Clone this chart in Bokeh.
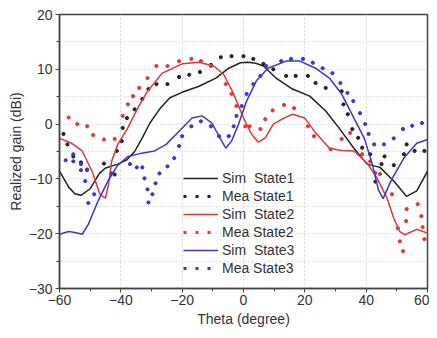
from bokeh.plotting import figure
from bokeh.models import Legend, LegendItem, FixedTicker, Range1d
from bokeh.embed import file_html
from bokeh.resources import INLINE

# ---- data ----
x_ticks = [-60, -40, -20, 0, 20, 40, 60]
y_ticks = [-30, -20, -10, 0, 10, 20]

sim1_x = [-60, -57, -55, -53, -50, -47, -45, -41, -38, -35.5, -33, -30.5, -27, -24, -20, -14.5, -9, -4.8, -1, 1.5, 4, 6.5, 10.6, 16, 21.6, 26.8, 31, 36, 40.3, 44.5, 49, 53.2, 56.5, 60]
sim1_y = [-8.6, -11.5, -12.7, -13, -11.8, -9, -8, -7.3, -6.5, -5, -2.5, 0.2, 3, 4.8, 5.8, 6.9, 8.4, 10.2, 11.2, 11.3, 11.1, 10.6, 8.4, 6.4, 5.1, 2.4, -0.6, -4.4, -7.3, -7.9, -10.4, -13.2, -12.2, -8.6]

mea1_x = [-58.7, -57.4, -55.5, -53, -51, -45.5, -42, -41.3, -39.7, -39.4, -38, -35.5, -33, -31, -28.4, -24.8, -21, -17.7, -14.2, -10.6, -7.4, -3.9, 0, 3.2, 6.5, 9.7, 13.9, 17, 21, 23.5, 26.8, 32, 32.6, 34, 35.5, 37.4, 38.7, 41.3, 43, 45, 46, 49, 52.3, 53.2, 55.8, 59]
mea1_y = [-1.8, -3.7, -5.9, -7, -8.3, -7.2, -9.2, -4.9, -3.1, -0.7, 1.1, 2.7, 4.6, 6.4, 7.3, 7.3, 8.6, 9, 9.5, 10.8, 12.2, 12.4, 12.4, 11.9, 11, 10, 8.8, 8.8, 8.8, 7.5, 6.6, 6, 3.6, 1.8, -0.9, -2.5, -4.3, -5.5, -10.5, -7.3, -5.9, -7.5, -5.5, -3.7, -4.9, -4.9]

sim2_x = [-60, -56, -52.6, -49.4, -46.8, -45, -44, -43, -41, -37.7, -34.5, -31.3, -26.5, -20, -14.5, -9.7, -6.5, -3.2, 0, 2.6, 4.8, 7.1, 9.7, 12.9, 16, 20, 23.5, 28, 32, 36, 40.3, 43.5, 46.8, 49, 51, 52.6, 56.5, 60]
sim2_y = [-2.6, -3.5, -4.9, -8.6, -12.8, -13.5, -11, -6.8, -3.7, -0.7, 2.9, 6, 9.3, 11, 11.3, 10.6, 9.1, 5.5, 1.1, -1.8, -3.3, -2.5, 0, 1, 1.8, 1.1, -1.6, -4.4, -4.8, -4.9, -7.1, -9.8, -13.5, -17.2, -19.6, -20.2, -19.2, -19.9]

mea2_x = [-57, -54.2, -51, -49, -45.5, -42, -39.4, -37.7, -36, -34, -31.3, -28.4, -24.8, -21, -17, -13.9, -10.6, -5.8, -3.9, -2.3, 0.6, 2, 5.5, 7.1, 9.5, 13.2, 16.5, 21, 23, 28.4, 32, 34.8, 38.7, 41.3, 43, 44.5, 48.4, 50.3, 51, 52, 53, 53.2, 56.8, 58, 58.4, 59]
mea2_y = [1.2, 0, -0.4, -2, -2.8, -2.7, 1.5, 3.6, 5.1, 6.6, 8.4, 10.6, 10.6, 11.5, 11.9, 11.5, 10.6, 7.3, 5.5, 3.3, -0.4, -0.4, -0.9, 0.9, 2.5, 3.5, 2.9, -0.4, -2.2, -4.6, -2.7, -1.6, -5.5, -6.8, -8.9, -9.1, -12.8, -19, -21.4, -23.2, -17.7, -15.5, -14.6, -16.8, -18.8, -21]

sim3_x = [-60, -57, -55, -52.6, -50.6, -47.4, -44.2, -41.3, -37.7, -33.2, -29, -25.2, -21, -16.8, -13.5, -10.3, -8, -5.8, -3.9, -1.6, 1, 4.2, 8, 13.9, 18.4, 23.5, 28, 32, 34.8, 39.4, 42, 44, 45.5, 48.4, 52.3, 56.5, 60]
sim3_y = [-20.1, -19.6, -19.8, -20.1, -18.3, -14, -10.4, -7.7, -5.9, -5.3, -4.9, -3.7, -1.3, 1.1, 1.5, 0.2, -2.2, -4.4, -3.1, 0, 4.2, 7.9, 10.2, 11.5, 11.5, 10.2, 8.4, 5.5, 2.4, -2.6, -7.3, -12, -13.6, -10, -6.2, -3.5, -2.8]

mea3_x = [-58, -55.5, -55.5, -53, -53, -51, -51.6, -50.6, -48.7, -43, -37, -34.8, -33, -32.3, -31.3, -31, -29.7, -28.7, -27.4, -24.8, -22.6, -21, -20, -17, -13.9, -10.6, -8, -4.8, -3.2, -2.3, -0.6, 1, 3.2, 5.5, 7.4, 12.3, 15.5, 19.4, 22.6, 25.8, 29, 31.6, 33.9, 35.8, 38, 39.7, 40.8, 42.6, 45.8, 49, 52, 55, 58.2]
mea3_y = [-6.6, -5.5, -6.8, -7.3, -8.4, -8.4, -10.4, -14.4, -12.8, -9, -7.3, -7.9, -7.9, -9.9, -11.9, -14.3, -12.8, -10.8, -9, -7.7, -6.2, -4, -2.2, -0.4, 0.5, -0.4, -2.2, -2.2, -0.4, 1.5, 3.3, 5.5, 7.3, 8.8, 10.6, 11.5, 11.9, 11.9, 11.2, 10.2, 9.3, 7.5, 5.7, 4.2, 2, 0, -1.8, -3.7, -3.7, -2.6, -0.9, -0.3, 0.2]

labels = ["Sim  State1", "Mea State1", "Sim  State2", "Mea State2", "Sim  State3", "Mea State3"]

BLACK = "#222222"
RED = "#e53535"
BLUE = "#3838d0"
FONT = "Liberation Sans"

p = figure(width=429, height=330, output_backend="svg", toolbar_location=None,
           x_range=Range1d(-60, 60), y_range=Range1d(-30, 20),
           min_border_left=59, min_border_right=2, min_border_top=14, min_border_bottom=42)
# off-screen range used only so that legend swatches for the measured series get drawn
p.extra_y_ranges = {"swatch": Range1d(1000, 1001)}

p.outline_line_color = "#444444"
p.outline_line_width = 1.5

for ax in (p.xaxis[0], p.yaxis[0]):
    ax.axis_line_color = "#444444"
    ax.axis_line_width = 1.5
    ax.major_tick_line_color = "#444444"
    ax.minor_tick_line_color = "#444444"
    ax.major_tick_in = 0
    ax.major_tick_out = 4
    ax.minor_tick_in = 0
    ax.minor_tick_out = 3
    ax.major_label_text_font = FONT
    ax.major_label_text_font_size = "14px"
    ax.major_label_text_color = "#333333"
    ax.axis_label_text_font = FONT
    ax.axis_label_text_font_size = "14px"
    ax.axis_label_text_font_style = "normal"
    ax.axis_label_text_color = "#333333"

p.xaxis.ticker = FixedTicker(ticks=x_ticks, minor_ticks=[v + 10 for v in x_ticks[:-1]])
p.yaxis.ticker = FixedTicker(ticks=y_ticks, minor_ticks=[v + 5 for v in y_ticks[:-1]])
p.xaxis.major_label_overrides = {v: str(v).replace("-", "\u2212") for v in x_ticks}
p.yaxis.major_label_overrides = {v: str(v).replace("-", "\u2212") for v in y_ticks}
p.xaxis.axis_label = "Theta (degree)"
p.yaxis.axis_label = "Realized gain (dBi)"
p.xaxis.major_label_standoff = 2
p.yaxis.major_label_standoff = 3
p.xaxis.axis_label_standoff = 3
p.yaxis.axis_label_standoff = 2

p.xgrid.grid_line_color = "#d5d5d5"
p.xgrid.grid_line_dash = "2 2"
p.ygrid.grid_line_color = "#e0e0e0"
p.ygrid.grid_line_dash = "2 2"
p.ygrid.minor_grid_line_color = "#e0e0e0"
p.ygrid.minor_grid_line_dash = "2 2"

r_s1 = p.line(sim1_x, sim1_y, line_color=BLACK, line_width=1.5)
p.scatter(mea1_x, mea1_y, size=3.2, color=BLACK)
r_s2 = p.line(sim2_x, sim2_y, line_color=RED, line_width=1.5)
p.scatter(mea2_x, mea2_y, size=3.2, color=RED)
r_s3 = p.line(sim3_x, sim3_y, line_color=BLUE, line_width=1.5)
p.scatter(mea3_x, mea3_y, size=3.2, color=BLUE)

# legend swatches for measured series (dotted line), drawn outside the frame
d1 = p.line(mea1_x, mea1_y, y_range_name="swatch", line_color=BLACK, line_width=3, line_dash="3 9")
d2 = p.line(mea2_x, mea2_y, y_range_name="swatch", line_color=RED, line_width=3, line_dash="3 9")
d3 = p.line(mea3_x, mea3_y, y_range_name="swatch", line_color=BLUE, line_width=3, line_dash="3 9")

items = [LegendItem(label=l, renderers=[r]) for l, r in zip(labels, [r_s1, d1, r_s2, d2, r_s3, d3])]
legend = Legend(items=items, location=(124, 11), border_line_color=None,
                background_fill_alpha=0, padding=0, margin=0, spacing=0,
                glyph_width=35, glyph_height=18, label_height=18, label_standoff=4,
                label_text_font=FONT, label_text_font_size="14px", label_text_color="#333333")
p.add_layout(legend, "center")

open("out.html", "w").write(file_html(p, INLINE))
